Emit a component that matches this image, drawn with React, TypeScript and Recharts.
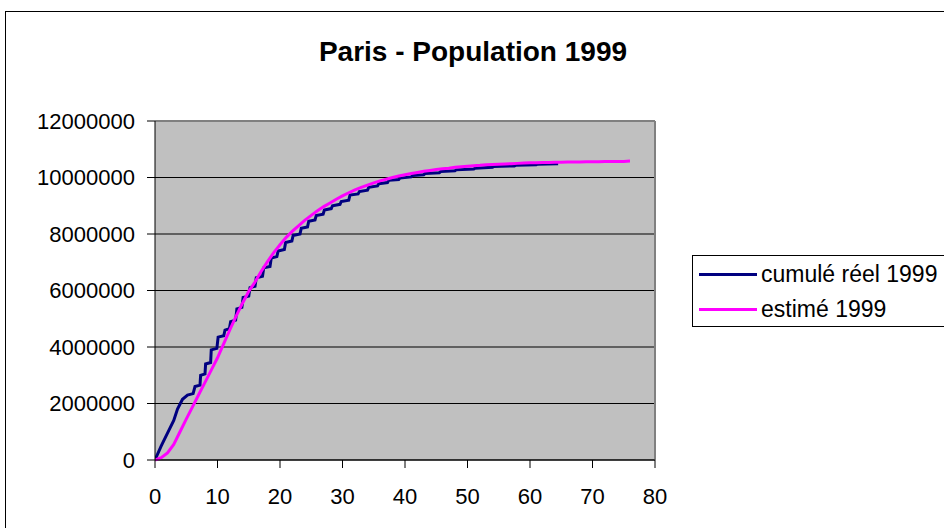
import React from 'react';
import { LineChart, Line, XAxis, YAxis, CartesianGrid, Legend, ReferenceLine } from 'recharts';

// cumulated real population (x in units, y in millions)
const reelX = [
  0, 1, 2, 3, 3.6, 4.4, 5.2, 6.1, 6.4, 7.2, 7.3, 8, 8.1, 8.9, 9, 9.9, 10.1, 11, 11.2, 11.9,
  12.1, 12.9, 13.1, 13.9, 14.1, 15, 15.2, 16, 16.2, 17.2, 17.4, 18.4, 18.6, 19.5, 19.7, 20.7,
  20.9, 21.9, 22.1, 23.2, 23.4, 24.4, 24.6, 25.6, 25.8, 26.9, 27.1, 28.2, 28.4, 29.6, 29.8, 31,
  31.2, 32.5, 32.7, 34, 34.2, 35.6, 35.8, 37.2, 37.4, 39, 39.2, 41, 41.2, 43, 43.2, 45.5, 45.7,
  48, 48.2, 51, 51.2, 54, 54.2, 57.5, 57.7, 61, 61.2, 64.5,
];
const reelY = [
  0, 0.5, 0.95, 1.4, 1.8, 2.15, 2.3, 2.35, 2.6, 2.65, 3.0, 3.05, 3.4, 3.45, 3.9, 3.95, 4.35, 4.4, 4.6, 4.65,
  4.9, 4.95, 5.35, 5.4, 5.75, 5.8, 6.1, 6.15, 6.45, 6.5, 6.8, 6.85, 7.15, 7.2, 7.4, 7.45,
  7.7, 7.75, 7.95, 8.0, 8.2, 8.25, 8.45, 8.5, 8.65, 8.7, 8.85, 8.9, 9.0, 9.05, 9.15, 9.2,
  9.38, 9.42, 9.5, 9.55, 9.65, 9.7, 9.78, 9.82, 9.9, 9.93, 9.98, 10.02, 10.07, 10.1, 10.14, 10.17, 10.21,
  10.24, 10.27, 10.3, 10.33, 10.36, 10.39, 10.41, 10.43, 10.45, 10.47, 10.49,
];

// estimated curve, x = 0..76
const estimeY = [
  0, 0.08, 0.25, 0.55, 1.0, 1.45, 1.88, 2.32, 2.75, 3.18,
  3.62, 4.12, 4.62, 5.1, 5.55, 5.97, 6.3, 6.68, 7.02, 7.34,
  7.62, 7.88, 8.1, 8.3, 8.49, 8.66, 8.82, 8.97, 9.1, 9.23,
  9.35, 9.46, 9.56, 9.65, 9.73, 9.81, 9.88, 9.94, 10.0, 10.05,
  10.1, 10.14, 10.18, 10.22, 10.25, 10.28, 10.31, 10.33, 10.36, 10.38,
  10.4, 10.42, 10.43, 10.45, 10.46, 10.47, 10.48, 10.49, 10.5, 10.51,
  10.52, 10.52, 10.53, 10.53, 10.54, 10.54, 10.55, 10.55, 10.55, 10.56,
  10.56, 10.56, 10.57, 10.57, 10.57, 10.57, 10.58,
];

const xTicks = [0, 10, 20, 30, 40, 50, 60, 70, 80];
const yTicks = [0, 2000000, 4000000, 6000000, 8000000, 10000000, 12000000];

const reelData = reelX.map((x, i) => ({ x, y: reelY[i] * 1000000 }));
const estimeData = estimeY.map((y, i) => ({ x: i, y: y * 1000000 }));

const font = '"Liberation Sans", Arial, sans-serif';

const renderLegend = () => (
  <div
    style={{
      position: 'absolute',
      left: 692,
      top: 255,
      width: 300,
      height: 70,
      border: '1px solid #000',
      background: '#fff',
      fontFamily: font,
      fontSize: 23,
      color: '#000',
    }}
  >
    {[
      { name: 'cumulé réel 1999', color: '#000080', top: 5 },
      { name: 'estimé 1999', color: '#FF00FF', top: 40 },
    ].map((it) => (
      <div key={it.name} style={{ position: 'absolute', left: 6, top: it.top, display: 'flex', alignItems: 'center', height: 26 }}>
        <div style={{ width: 58, height: 3, background: it.color, marginRight: 4 }} />
        <span style={{ whiteSpace: 'nowrap' }}>{it.name}</span>
      </div>
    ))}
  </div>
);

const App: React.FC = () => {
  return (
    <div style={{ position: 'absolute', left: 0, top: 0, width: 944, height: 528, overflow: 'hidden', background: '#fff', fontFamily: font }}>
      <div style={{ position: 'absolute', left: 5, top: 11, width: 1000, height: 600, border: '1px solid #000' }} />
      <div
        style={{
          position: 'absolute',
          left: 0,
          top: 36,
          width: 946,
          textAlign: 'center',
          fontSize: 28,
          fontWeight: 'bold',
          color: '#000',
        }}
      >
        Paris - Population 1999
      </div>
      <div style={{ position: 'absolute', left: 0, top: 0 }}>
        <LineChart width={944} height={528} margin={{ top: 121, right: 289, bottom: 18, left: 35 }}>
          <CartesianGrid vertical={false} fill="#C0C0C0" stroke="#000" strokeOpacity={1} />
          <XAxis
            type="number"
            dataKey="x"
            domain={[0, 80]}
            ticks={xTicks}
            allowDataOverflow
            height={50}
            tickSize={8}
            tickMargin={20}
            stroke="#000"
            tick={{ fill: '#000', fontSize: 22, fontFamily: font }}
          />
          <YAxis
            type="number"
            domain={[0, 12000000]}
            ticks={yTicks}
            width={120}
            tickSize={8}
            tickMargin={12}
            stroke="#000"
            tick={{ fill: '#000', fontSize: 22, fontFamily: font }}
          />
          <ReferenceLine y={12000000} stroke="#808080" strokeWidth={2} />
          <ReferenceLine x={80} stroke="#808080" strokeWidth={2} />
          <Legend content={renderLegend} wrapperStyle={{ position: 'absolute', left: 0, top: 0, width: 0, height: 0 }} />
          <Line
            data={reelData}
            dataKey="y"
            name="cumulé réel 1999"
            type="linear"
            stroke="#000080"
            strokeWidth={3}
            dot={false}
            isAnimationActive={false}
          />
          <Line
            data={estimeData}
            dataKey="y"
            name="estimé 1999"
            type="linear"
            stroke="#FF00FF"
            strokeWidth={3}
            dot={false}
            isAnimationActive={false}
          />
        </LineChart>
      </div>
    </div>
  );
};

export default App;
